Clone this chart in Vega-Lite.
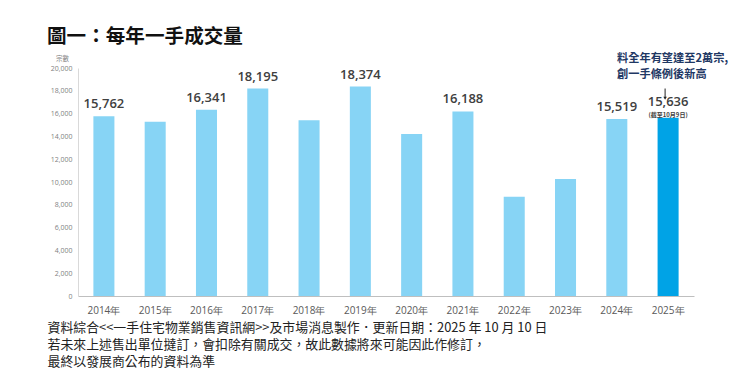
{
  "$schema": "https://vega.github.io/schema/vega-lite/v6.json",
  "width": 616,
  "height": 228,
  "autosize": {"type": "none"},
  "padding": {"left": 78, "top": 68, "right": 47, "bottom": 88},
  "background": "white",
  "config": {
    "view": {"stroke": null},
    "font": "Noto Sans CJK TC",
    "axis": {"labelOverlap": false},
    "axisY": {"labelOverlap": false},
    "axisQuantitative": {"labelOverlap": false}
  },
  "title": {
    "text": "圖一：每年一手成交量",
    "anchor": "start",
    "frame": "group",
    "dx": -31,
    "fontSize": 19.6,
    "fontWeight": "bold",
    "color": "#111111",
    "font": "Noto Sans CJK TC",
    "offset": 6
  },
  "datasets": {
    "sales": [
      {"year": "2014年", "count": 15762, "label": "15,762", "kind": "past"},
      {"year": "2015年", "count": 15290, "label": "", "kind": "past"},
      {"year": "2016年", "count": 16341, "label": "16,341", "kind": "past"},
      {"year": "2017年", "count": 18195, "label": "18,195", "kind": "past"},
      {"year": "2018年", "count": 15410, "label": "", "kind": "past"},
      {"year": "2019年", "count": 18374, "label": "18,374", "kind": "past"},
      {"year": "2020年", "count": 14210, "label": "", "kind": "past"},
      {"year": "2021年", "count": 16188, "label": "16,188", "kind": "past"},
      {"year": "2022年", "count": 8710, "label": "", "kind": "past"},
      {"year": "2023年", "count": 10260, "label": "", "kind": "past"},
      {"year": "2024年", "count": 15519, "label": "15,519", "kind": "past"},
      {"year": "2025年", "count": 15636, "label": "15,636", "kind": "current"}
    ],
    "note": [
      {"year": "2025年", "count": 20750, "text": "料全年有望達至2萬宗,"},
      {"year": "2025年", "count": 19350, "text": "創一手條例後新高"}
    ],
    "arrow": [
      {"year": "2025年", "count": 18200, "count2": 17350}
    ]
  },
  "encoding": {
    "x": {
      "field": "year", "type": "nominal", "sort": null,
      "scale": {"paddingInner": 0.59, "paddingOuter": 0.3},
      "axis": {
        "labelAngle": 0, "labelFontSize": 10, "labelColor": "#595959",
        "labelPadding": 9, "ticks": false, "domainColor": "#bfbfbf",
        "labelFont": "Open Sans",
        "title": [
          "資料綜合<<一手住宅物業銷售資訊網>>及市場消息製作．更新日期：2025 年 10 月 10 日",
          "若未來上述售出單位撻訂，會扣除有關成交，故此數據將來可能因此作修訂，",
          "最終以發展商公布的資料為準"
        ],
        "titleFontSize": 12.9,
        "titleFontWeight": "normal",
        "titleColor": "#222222",
        "titleAnchor": "start",
        "titleAlign": "left",
        "titleBaseline": "top",
        "titleLineHeight": 17,
        "titleX": -31,
        "titleY": 25
      }
    },
    "y": {
      "field": "count", "type": "quantitative",
      "scale": {"domain": [0, 20000], "nice": false},
      "axis": {
        "values": [0, 2000, 4000, 6000, 8000, 10000, 12000, 14000, 16000, 18000, 20000],
        "format": ",d", "grid": false, "ticks": false, "labelOverlap": false,
        "labelFontSize": 7, "labelColor": "#7f7f7f", "labelPadding": 6,
        "labelFont": "Open Sans",
        "domainColor": "#d9d9d9",
        "title": "宗數", "titleAngle": 0, "titleFontSize": 6.5,
        "titleFontWeight": "normal", "titleColor": "#7f7f7f",
        "titleX": -16, "titleY": -7, "titleAlign": "center"
      }
    }
  },
  "layer": [
    {
      "data": {"name": "sales"},
      "mark": {"type": "bar"},
      "encoding": {
        "color": {
          "field": "kind", "type": "nominal", "legend": null,
          "scale": {"domain": ["past", "current"], "range": ["#87D4F5", "#00A3E6"]}
        }
      }
    },
    {
      "data": {"name": "sales"},
      "transform": [{"filter": "datum.label != '' && datum.kind == 'past'"}],
      "mark": {"type": "text", "baseline": "bottom", "dy": -5, "fontSize": 13, "color": "#404040", "font": "Open Sans", "fontWeight": 600},
      "encoding": {
        "text": {"field": "label"}
      }
    },
    {
      "data": {"name": "sales"},
      "transform": [{"filter": "datum.kind == 'current'"}],
      "mark": {"type": "text", "baseline": "bottom", "dy": -9, "fontSize": 13, "color": "#404040", "font": "Open Sans", "fontWeight": 600},
      "encoding": {
        "text": {"field": "label"}
      }
    },
    {
      "data": {"name": "sales"},
      "transform": [{"filter": "datum.kind == 'current'"}],
      "mark": {"type": "text", "baseline": "bottom", "dy": 0, "fontSize": 6, "fontWeight": "bold", "color": "#404040"},
      "encoding": {
        "text": {"value": "(截至10月9日)"}
      }
    },
    {
      "data": {"name": "note"},
      "mark": {"type": "text", "fontSize": 11.2, "fontWeight": "bold", "color": "#1F3864", "dx": -51, "align": "left", "baseline": "middle"},
      "encoding": {
        "text": {"field": "text"}
      }
    },
    {
      "data": {"name": "arrow"},
      "mark": {"type": "rule", "color": "#222222", "strokeWidth": 1, "xOffset": -3},
      "encoding": {
        "y2": {"field": "count2"}
      }
    },
    {
      "data": {"name": "arrow"},
      "mark": {"type": "point", "shape": "triangle-down", "filled": true, "color": "#222222", "size": 12, "xOffset": -3, "opacity": 1},
      "encoding": {
        "y": {"field": "count2", "type": "quantitative"}
      }
    }
  ]
}
